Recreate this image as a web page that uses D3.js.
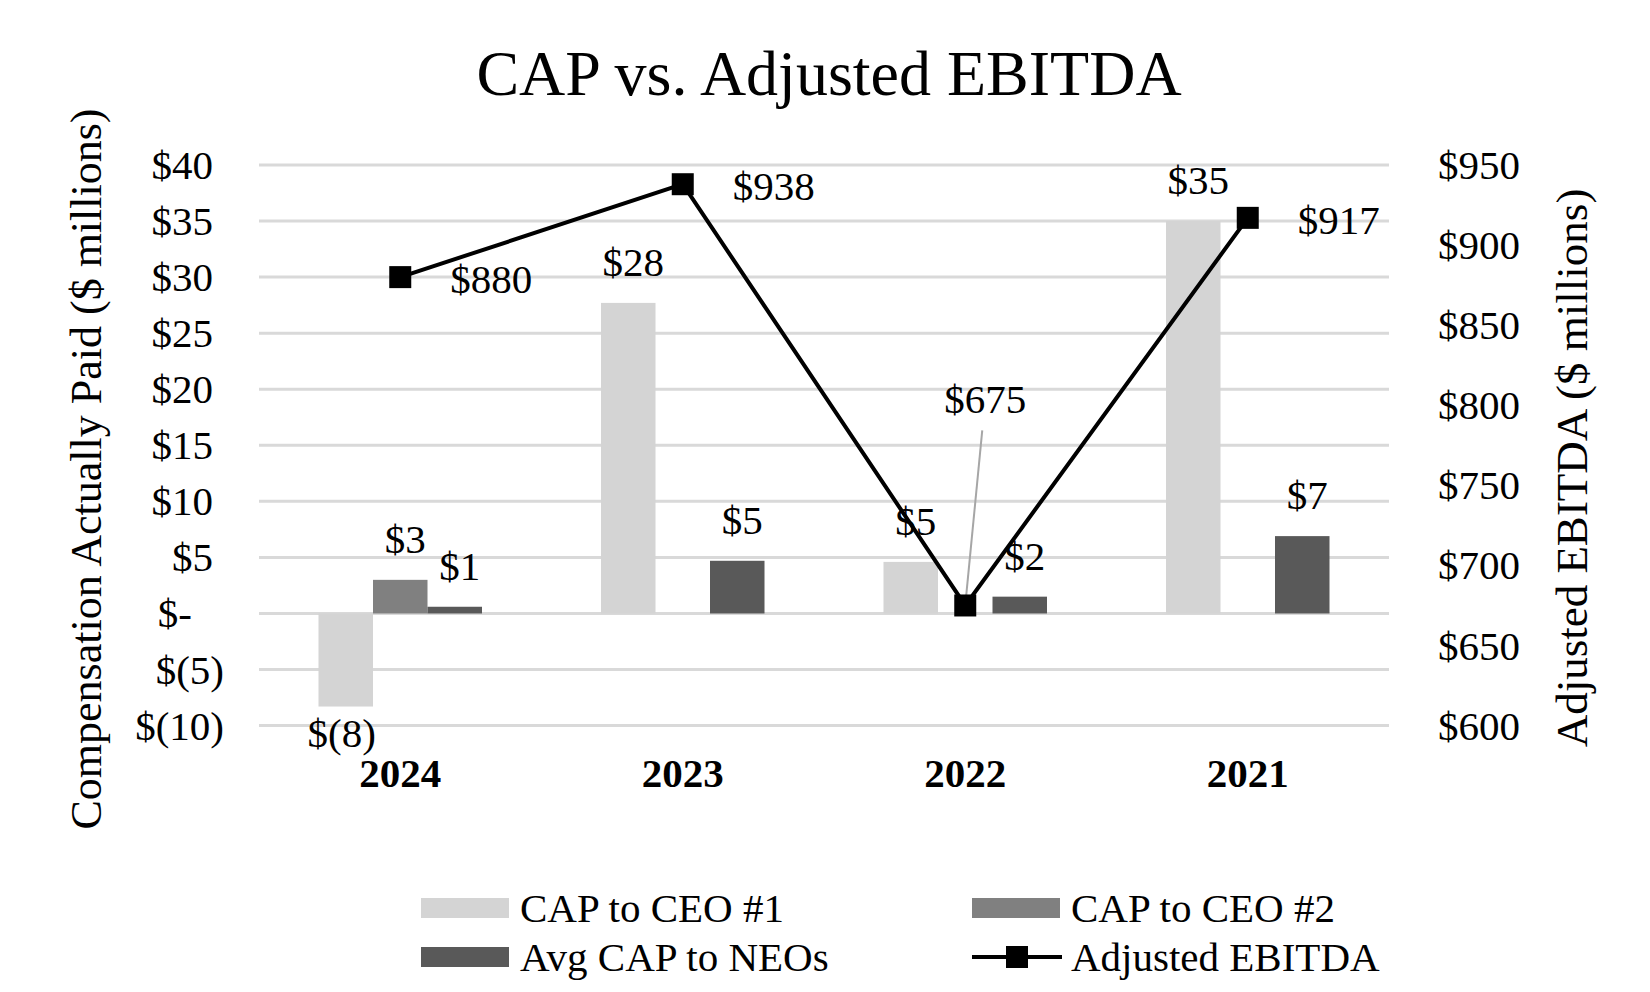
<!DOCTYPE html>
<html>
<head>
<meta charset="utf-8">
<script src="https://cdn.jsdelivr.net/npm/d3@7"></script>
<style>
  body { margin: 0; background: #fff; }
  svg text { font-family: "Liberation Serif", "Times New Roman", serif; fill: #000; }
</style>
</head>
<body>
<div id="chart"></div>
<script>
var years = ["2024", "2023", "2022", "2021"];
var capCeo1 = [-8.3, 27.7, 4.6, 35.0];
var capCeo2 = [3.0, null, null, null];
var avgNeo = [0.6, 4.7, 1.5, 6.9];
var ebitda = [880, 938, 675, 917];
var leftTicks = [-10, -5, 0, 5, 10, 15, 20, 25, 30, 35, 40];
var rightTicks = [600, 650, 700, 750, 800, 850, 900, 950];

var width = 1650, height = 992;
var svg = d3.select("#chart").append("svg").attr("width", width).attr("height", height);

var x = d3.scaleBand().domain(years).range([259, 1389]);
var yL = d3.scaleLinear().domain([-10, 40]).range([725.6, 165]);
var yR = d3.scaleLinear().domain([600, 950]).range([725.6, 165]);

var barW = 54.5;
var sub = d3.scaleBand().domain(["ceo1", "ceo2", "neo"]).range([-barW * 1.5, barW * 1.5]);

function money(v) {
  var r = Math.round(v);
  return r < 0 ? "$(" + Math.abs(r) + ")" : "$" + r;
}

// title
svg.append("text").attr("x", 829).attr("y", 95).attr("text-anchor", "middle")
  .style("font-size", "64px").text("CAP vs. Adjusted EBITDA");

// gridlines
svg.append("g").selectAll("line").data(leftTicks).enter().append("line")
  .attr("x1", 259).attr("x2", 1389)
  .attr("y1", function(d) { return yL(d); }).attr("y2", function(d) { return yL(d); })
  .attr("stroke", "#d9d9d9").attr("stroke-width", 3);

// left ticks
svg.append("g").selectAll("text").data(leftTicks).enter().append("text")
  .attr("x", function(d) { return d < 0 ? 224 : (d == 0 ? 192 : 213); })
  .attr("y", function(d) { return yL(d) + 14; })
  .attr("text-anchor", "end").style("font-size", "41px")
  .text(function(d) { return d == 0 ? "$-" : money(d); });

// right ticks
svg.append("g").selectAll("text").data(rightTicks).enter().append("text")
  .attr("x", 1438).attr("y", function(d) { return yR(d) + 14; })
  .style("font-size", "41px").text(function(d) { return "$" + d; });

// axis titles
svg.append("text").attr("transform", "translate(101,469) rotate(-90)")
  .attr("text-anchor", "middle").style("font-size", "44px")
  .text("Compensation Actually Paid ($ millions)");
svg.append("text").attr("transform", "translate(1587,468) rotate(-90)")
  .attr("text-anchor", "middle").style("font-size", "45px")
  .text("Adjusted EBITDA ($ millions)");

// category labels
svg.append("g").selectAll("text").data(years).enter().append("text")
  .attr("x", function(d) { return x(d) + x.bandwidth() / 2; })
  .attr("y", 787).attr("text-anchor", "middle")
  .style("font-size", "41px").style("font-weight", "bold")
  .text(function(d) { return d; });

// bars
var series = [
  {key: "ceo1", values: capCeo1, color: "#d4d4d4"},
  {key: "ceo2", values: capCeo2, color: "#808080"},
  {key: "neo", values: avgNeo, color: "#595959"}
];

series.forEach(function(s) {
  var pts = years.map(function(yr, i) { return {year: yr, v: s.values[i]}; })
    .filter(function(d) { return d.v != null; });
  var g = svg.append("g");
  g.selectAll("rect").data(pts).enter().append("rect")
    .attr("x", function(d) { return x(d.year) + x.bandwidth() / 2 + sub(s.key); })
    .attr("width", barW)
    .attr("y", function(d) { return Math.min(yL(d.v), yL(0)); })
    .attr("height", function(d) { return Math.abs(yL(d.v) - yL(0)); })
    .attr("fill", s.color);
  g.selectAll("text").data(pts).enter().append("text")
    .attr("x", function(d) { return x(d.year) + x.bandwidth() / 2 + sub(s.key) + barW / 2 + (d.v < 0 ? -4 : 5); })
    .attr("y", function(d) { return d.v < 0 ? yL(d.v) + 40 : yL(d.v) - 27; })
    .attr("text-anchor", "middle").style("font-size", "41px")
    .text(function(d) { return money(d.v); });
});

// EBITDA line
var pts = years.map(function(yr, i) { return {year: yr, v: ebitda[i]}; });
var cx = function(d) { return x(d.year) + x.bandwidth() / 2; };
var line = d3.line().x(cx).y(function(d) { return yR(d.v); });
svg.append("path").datum(pts).attr("d", line)
  .attr("fill", "none").attr("stroke", "#000").attr("stroke-width", 4);

// leader line for the low point
var low = pts[2];
svg.append("line")
  .attr("x1", cx(low) + 17).attr("y1", yR(low.v) - 175)
  .attr("x2", cx(low)).attr("y2", yR(low.v))
  .attr("stroke", "#a6a6a6").attr("stroke-width", 2);

svg.append("g").selectAll("rect").data(pts).enter().append("rect")
  .attr("x", function(d) { return cx(d) - 11; })
  .attr("y", function(d) { return yR(d.v) - 11; })
  .attr("width", 22).attr("height", 22).attr("fill", "#000");

svg.append("g").selectAll("text").data(pts).enter().append("text")
  .attr("x", function(d, i) { return i == 2 ? cx(d) + 20 : cx(d) + 50; })
  .attr("y", function(d, i) { return i == 2 ? yR(d.v) - 192 : yR(d.v) + 16; })
  .attr("text-anchor", function(d, i) { return i == 2 ? "middle" : "start"; })
  .style("font-size", "41px")
  .text(function(d) { return "$" + d.v; });

// legend
var legend = [
  {name: "CAP to CEO #1", color: "#d4d4d4", type: "bar", col: 0, row: 0},
  {name: "CAP to CEO #2", color: "#808080", type: "bar", col: 1, row: 0},
  {name: "Avg CAP to NEOs", color: "#595959", type: "bar", col: 0, row: 1},
  {name: "Adjusted EBITDA", color: "#000", type: "line", col: 1, row: 1}
];
var lg = svg.append("g").selectAll("g").data(legend).enter().append("g")
  .attr("transform", function(d) { return "translate(" + (d.col ? 972 : 421) + "," + (908 + d.row * 49) + ")"; });
lg.filter(function(d) { return d.type == "bar"; }).append("rect")
  .attr("x", 0).attr("y", -10).attr("width", 88).attr("height", 20)
  .attr("fill", function(d) { return d.color; });
var ll = lg.filter(function(d) { return d.type == "line"; });
ll.append("line").attr("x1", 0).attr("x2", 90).attr("y1", 0).attr("y2", 0)
  .attr("stroke", "#000").attr("stroke-width", 4);
ll.append("rect").attr("x", 34).attr("y", -11).attr("width", 22).attr("height", 22).attr("fill", "#000");
lg.append("text").attr("x", 99).attr("y", 14).style("font-size", "41px")
  .text(function(d) { return d.name; });
</script>
</body>
</html>
